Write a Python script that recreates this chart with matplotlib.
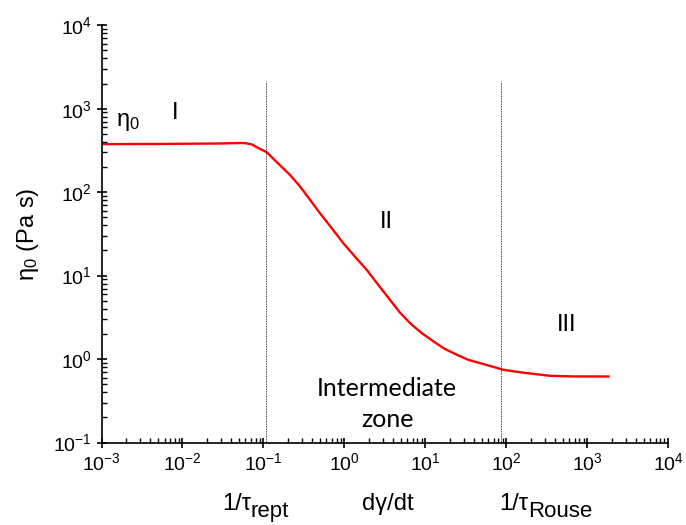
import numpy as np
import matplotlib
matplotlib.use('Agg')
from matplotlib import pyplot as plt
from matplotlib import transforms

# valeurs (taux de cisaillement, viscosité)
shear_rate = [0.001, 0.0052, 0.030, 0.051, 0.060, 0.072, 0.0824, 0.110, 0.151, 0.213,
              0.283, 0.377, 0.499, 0.697, 0.969, 1.35, 1.89, 2.62, 3.66, 4.86,
              6.47, 9.02, 12.6, 17.5, 24.4, 34.0, 47.4, 92.0, 135.0, 179.0,
              348.0, 676.0, 1828.0]
viscosity = [376, 378, 383, 388, 386, 373, 346, 301, 222, 161,
             117, 80.9, 56, 37.1, 24.5, 16.9, 11.7, 7.76, 5.13, 3.61,
             2.70, 2.05, 1.63, 1.32, 1.13, 0.98, 0.895, 0.745, 0.705, 0.680,
             0.631, 0.620, 0.619]

# positions des lignes 1/tau_rept et 1/tau_Rouse
line_x = [0.108, 87.0]
line_top = 2150

plt.rcParams['font.family'] = ['Liberation Sans', 'DejaVu Sans']
plt.rcParams['mathtext.fontset'] = 'custom'
plt.rcParams['mathtext.rm'] = 'Liberation Sans'
plt.rcParams['mathtext.it'] = 'Liberation Sans'

fig = plt.figure(figsize=(6.86, 5.25), dpi=100)
ax = fig.add_axes([0.148, 0.157, 0.826, 0.795])

ax.plot(shear_rate, viscosity, color='#ff0000', lw=1.7, solid_joinstyle='round')
for xv in line_x:
    ax.plot([xv, xv], [0.1, line_top], color='black', lw=0.6, ls=(0, (1, 1)))

ax.set_xscale('log')
ax.set_yscale('log')
ax.set_xlim(1e-3, 1e4)
ax.set_ylim(1e-1, 1e4)

ax.spines['top'].set_visible(False)
ax.spines['right'].set_visible(False)
ax.spines['left'].set_linewidth(1.2)
ax.spines['bottom'].set_linewidth(1.2)
ax.tick_params(which='major', direction='inout', length=7, width=1.2, labelsize=14)
ax.tick_params(which='minor', direction='in', length=3.5, width=1.0)
ax.xaxis.set_minor_locator(matplotlib.ticker.LogLocator(base=10, subs=np.arange(2, 10)))
ax.yaxis.set_minor_locator(matplotlib.ticker.LogLocator(base=10, subs=np.arange(2, 10)))

ax.set_ylabel(r'$\mathrm{η}_\mathrm{0}$ (Pa s)', fontsize=17, labelpad=9)

# annotations des zones
ax.text(0.0021, 700, r'$\mathrm{η}_\mathrm{0}$', fontsize=17, ha='center', va='center')
ax.text(0.00805, 900, 'I', fontsize=17, ha='center', va='center', family='Lato')
ax.text(3.28, 44, 'II', fontsize=17, ha='center', va='center', family='Lato')
ax.text(560, 2.58, 'III', fontsize=17, ha='center', va='center', family='Lato')
ax.text(3.37, 0.29, 'Intermediate\nzone', fontsize=18, ha='center', va='center',
        family='Lato', linespacing=1.45)

# étiquettes sous l'axe x
trans = transforms.blended_transform_factory(ax.transData, fig.transFigure)
ax.text(0.070, 0.0286, '1/τ', fontsize=17, ha='right', va='baseline', transform=trans)
ax.text(0.070, 0.0152, 'rept', fontsize=16, ha='left', va='baseline', transform=trans)
ax.text(3.4, 0.0286, 'dγ/dt', fontsize=17, ha='center', va='baseline', transform=trans)
ax.text(186, 0.0286, '1/τ', fontsize=17, ha='right', va='baseline', transform=trans)
ax.text(186, 0.0152, 'Rouse', fontsize=16, ha='left', va='baseline', transform=trans)

plt.savefig('out.png', dpi=100)
